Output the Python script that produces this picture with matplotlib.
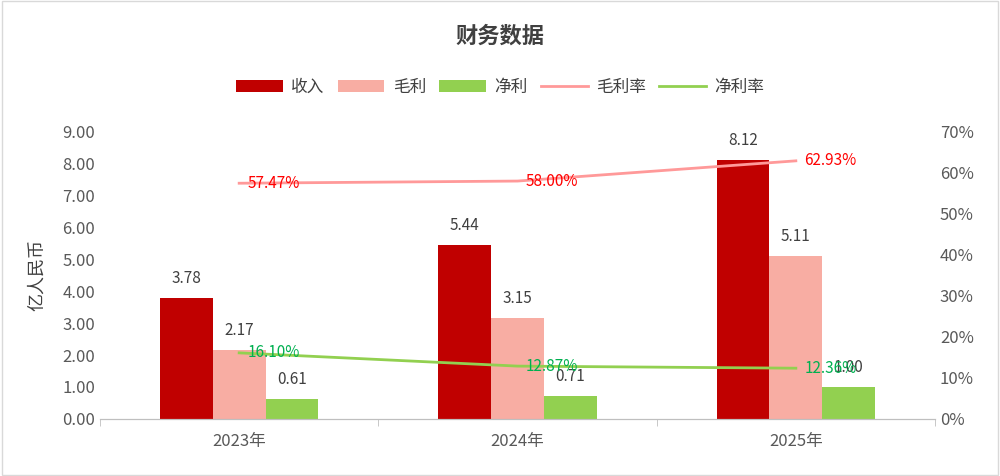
import matplotlib
matplotlib.use('Agg')
import matplotlib.pyplot as plt
import numpy as np

plt.rcParams['font.family'] = ['Noto Sans CJK SC', 'DejaVu Sans']

years = ['2023年', '2024年', '2025年']
revenue = [3.78, 5.44, 8.12]
gross = [2.17, 3.15, 5.11]
net = [0.61, 0.71, 1.00]
gross_rate = [57.47, 58.00, 62.93]
net_rate = [16.10, 12.87, 12.36]

fig = plt.figure(figsize=(10, 4.76), dpi=100)
ax = fig.add_axes([0.100, 0.120, 0.835, 0.603])
ax2 = ax.twinx()

x = np.arange(len(years))
w = 0.19
c_rev, c_gross, c_net = '#C00000', '#F8ADA3', '#92D050'
b1 = ax.bar(x - w, revenue, w, color=c_rev, label='收入')
b2 = ax.bar(x, gross, w, color=c_gross, label='毛利')
b3 = ax.bar(x + w, net, w, color=c_net, label='净利')
for bars, vals in ((b1, revenue), (b2, gross), (b3, net)):
    for b, v in zip(bars, vals):
        ax.text(b.get_x() + b.get_width() / 2, v + 0.35, f'{v:.2f}',
                ha='center', va='bottom', fontsize=11, color='#404040')

l1, = ax2.plot(x, gross_rate, color='#FF9999', lw=2, label='毛利率')
l2, = ax2.plot(x, net_rate, color='#92D050', lw=2, label='净利率')
for xi, v in zip(x, gross_rate):
    ax2.text(xi + 0.03, v, f'{v:.2f}%', ha='left', va='center', fontsize=11, color='#FF0000')
for xi, v in zip(x, net_rate):
    ax2.text(xi + 0.03, v, f'{v:.2f}%', ha='left', va='center', fontsize=11, color='#00B050')

ax.set_xlim(-0.5, 2.5)
ax.set_ylim(0, 9)
ax.set_yticks(np.arange(0, 9.01, 1))
ax.set_yticklabels([f'{v:.2f}' for v in np.arange(0, 9.01, 1)])
ax2.set_ylim(0, 70)
ax2.set_yticks(np.arange(0, 71, 10))
ax2.set_yticklabels([f'{v}%' for v in range(0, 71, 10)])
ax.set_xticks(x)
ax.set_xticklabels(years)
ax.set_xticks([-0.5, 0.5, 1.5, 2.5], minor=True)
ax.tick_params(axis='x', which='major', length=0, pad=10)
ax.tick_params(axis='x', which='minor', length=5, color='#BFBFBF')
for a in (ax, ax2):
    a.tick_params(axis='y', length=0, labelsize=12, labelcolor='#595959')
    for s in ('top', 'left', 'right'):
        a.spines[s].set_visible(False)
    a.spines['bottom'].set_color('#BFBFBF')
ax.tick_params(axis='x', labelsize=12, labelcolor='#595959')
ax.set_ylabel('亿人民币', fontsize=13, color='#404040', labelpad=12)

fig.text(0.5, 0.925, '财务数据', ha='center', va='center', fontsize=16,
         fontweight='bold', color='#404040')
fig.legend(handles=[b1, b2, b3, l1, l2], loc='center', bbox_to_anchor=(0.5, 0.817),
           ncol=5, frameon=False, fontsize=12, handlelength=2.8, columnspacing=0.8,
           handletextpad=0.5, labelcolor='#404040')
fig.patches.append(plt.Rectangle((0.002, 0.003), 0.996, 0.994, transform=fig.transFigure,
                                 fill=False, ec='#D9D9D9', lw=1))
fig.savefig('out.png')
